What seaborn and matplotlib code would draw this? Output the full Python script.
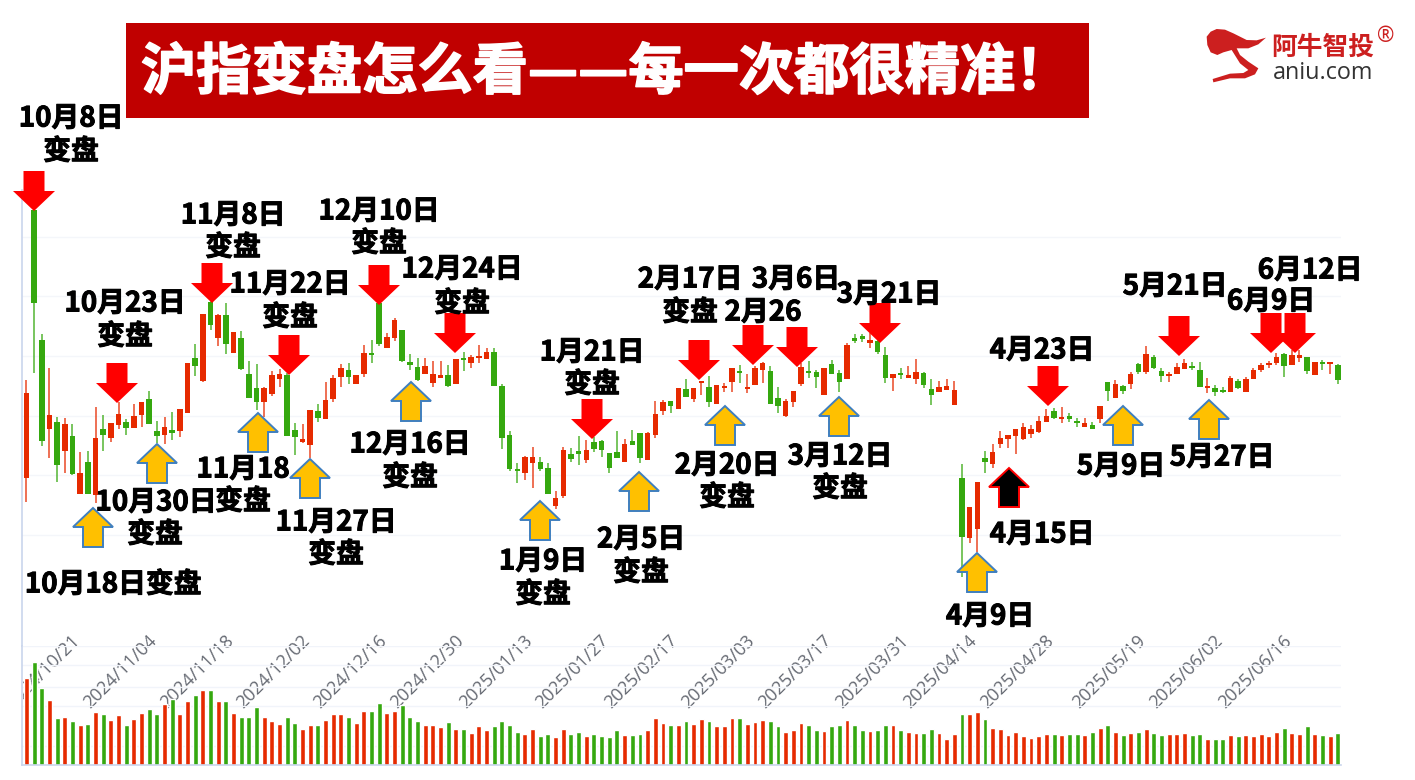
#!/usr/bin/env python

import numpy as np
import pandas as pd
import matplotlib
matplotlib.use("Agg")
import matplotlib.pyplot as plt
import matplotlib.patheffects as pe
from matplotlib.patches import Polygon, Rectangle
from matplotlib.transforms import ScaledTranslation
import seaborn as sns

# daily candles, on the chart's own unlabelled price scale
opens = [
    122,390,260,171,178,149,164,106,138,105,
    171,162,175,178,172,185,201,169,165,170,
    169,187,242,219,298,262,285,247,262,226,
    212,198,206,221,225,170,158,155,189,181,
    201,223,230,216,226,246,297,252,262,270,
    238,233,226,217,222,225,216,242,237,242,
    241,248,214,165,131,127,137,138,132,94,
    104,146,149,140,158,159,147,148,138,159,
    167,140,165,189,199,191,211,201,217,213,
    196,212,218,229,211,215,230,229,202,184,
    198,216,228,228,205,236,227,221,262,264,
    257,259,245,222,226,222,221,227,211,208,
    210,195,122,62,71,142,136,156,161,164,
    161,166,168,178,189,181,184,179,173,175,
    181,218,202,214,216,236,228,243,229,224,
    226,231,233,230,212,212,209,208,219,208,
    221,230,235,237,246,235,242,243,225,237,
    236,235]
closes = [
    207,297,159,185,135,176,126,127,106,162,
    165,177,186,172,184,198,176,164,173,167,
    191,237,234,286,275,285,256,268,231,202,
    198,212,225,226,164,163,161,190,182,200,
    222,232,223,225,247,245,256,263,280,239,
    235,220,234,226,225,214,241,240,243,244,
    248,214,162,131,129,143,143,131,106,102,
    150,141,146,150,151,150,132,142,156,155,
    142,167,186,198,194,212,203,212,218,198,
    215,214,232,227,212,232,237,196,194,199,
    209,233,227,223,232,226,218,255,259,261,
    260,248,222,226,225,225,228,215,205,213,
    214,210,63,93,118,138,148,162,165,171,
    173,171,179,184,182,183,181,177,177,171,
    194,209,216,209,226,228,246,232,224,225,
    233,237,232,213,213,208,208,222,212,221,
    230,235,236,243,234,245,245,229,238,236,
    238,220]
highs = [
    220,390,266,232,183,182,176,148,149,193,
    185,177,198,181,196,198,209,179,183,188,
    191,237,256,286,300,286,297,268,269,239,
    236,213,229,231,227,177,176,190,196,218,
    225,236,237,225,255,260,297,267,282,270,
    246,242,242,239,239,235,241,248,245,255,
    252,252,216,169,137,144,153,143,137,109,
    153,152,164,160,163,160,147,169,161,170,
    167,168,199,200,199,212,221,212,218,224,
    215,217,232,235,226,234,238,234,213,201,
    209,237,239,230,232,240,230,257,266,266,
    267,260,253,226,232,234,241,228,221,219,
    221,219,136,93,118,149,156,169,165,171,
    177,175,184,191,192,193,187,182,182,178,
    194,218,220,215,228,237,254,245,232,228,
    237,241,238,238,222,215,213,224,221,223,
    232,237,239,247,247,250,250,243,238,240,
    238,236]
lows = [
    98,227,154,142,118,127,125,106,106,97,
    149,158,171,165,172,173,176,157,156,160,
    163,187,224,218,270,254,246,247,230,202,
    190,183,204,213,164,145,157,142,178,181,
    198,213,216,216,223,237,254,252,259,238,
    230,219,226,213,222,213,216,229,232,237,
    241,214,151,129,117,120,112,129,106,91,
    102,138,135,137,148,143,127,142,138,155,
    137,140,162,185,187,191,203,198,205,193,
    196,208,208,217,207,215,217,196,187,183,
    193,214,222,212,205,226,208,221,257,258,
    252,246,217,209,221,222,216,212,195,208,
    210,195,23,57,48,127,132,152,152,146,
    160,162,167,178,181,177,178,173,173,171,
    177,199,202,206,211,226,226,231,218,218,
    226,231,230,213,207,204,207,208,211,208,
    221,228,232,235,223,235,238,226,225,230,
    226,216]
volumes = [
    260,308,232,195,140,145,131,119,122,159,
    153,134,150,119,137,156,168,153,183,197,
    153,192,209,224,224,192,192,156,145,145,
    174,145,131,122,145,125,108,119,119,134,
    153,153,145,125,162,162,186,156,162,180,
    145,131,119,119,113,128,108,108,96,116,
    105,116,131,119,99,93,108,87,93,84,
    108,93,99,87,93,87,84,105,90,90,
    93,105,140,125,119,119,131,122,137,131,
    116,116,140,140,122,128,134,131,116,99,
    105,125,119,105,102,116,119,134,119,105,
    102,105,119,119,105,99,96,96,108,96,
    78,93,153,153,159,137,110,108,90,99,
    87,81,87,93,93,90,93,93,90,99,
    110,119,99,90,96,99,108,96,90,93,
    93,96,90,93,78,78,78,90,87,90,
    87,93,87,99,110,96,93,116,93,90,
    87,96]

tick_days = [9, 19, 29, 39, 49, 59, 68, 78, 87, 97, 107, 117, 126, 136, 148, 158, 167]
tick_dates = ["2024/10/21", "2024/11/04", "2024/11/18", "2024/12/02", "2024/12/16",
              "2024/12/30", "2025/01/13", "2025/01/27", "2025/02/17", "2025/03/03",
              "2025/03/17", "2025/03/31", "2025/04/14", "2025/04/28", "2025/05/19",
              "2025/06/02", "2025/06/16"]

# hand drawn marks on the slide, pixel position of each arrow tip
down_tips = [(34, 211), (117, 403), (212, 303), (289, 375), (379, 305), (455, 353),
             (592, 439), (699, 380), (753, 365), (797, 367), (880, 343), (1048, 406),
             (1179, 356), (1271, 353), (1295, 353)]
up_tips = [(93, 508), (157, 444), (258, 413), (310, 459), (411, 382), (540, 501),
           (639, 472), (725, 406), (839, 397), (977, 553), (1123, 406), (1209, 400)]
black_tip = (1009, 468)

notes = [("10月8日", 71, 116), ("变盘", 71, 149), ("11月8日", 233, 213), ("变盘", 233, 245),
         ("10月23日", 125, 301), ("变盘", 125, 334), ("12月10日", 379, 209), ("变盘", 379, 241),
         ("11月22日", 290, 282), ("变盘", 290, 315), ("12月24日", 462, 267), ("变盘", 462, 301),
         ("1月21日", 592, 350), ("变盘", 592, 382), ("2月17日", 690, 277), ("变盘", 690, 310),
         ("3月6日", 796, 277), ("2月26", 763, 310), ("3月21日", 889, 292), ("4月23日", 1042, 348),
         ("5月21日", 1175, 284), ("6月9日", 1271, 299), ("6月12日", 1310, 268),
         ("10月30日", 156, 500), ("变盘", 155, 532), ("11月18", 243, 467), ("变盘", 243, 499),
         ("10月18日变盘", 113, 582), ("11月27日", 336, 520), ("变盘", 336, 552),
         ("12月16日", 410, 442), ("变盘", 410, 475), ("1月9日", 543, 559), ("变盘", 543, 592),
         ("2月5日", 641, 537), ("变盘", 641, 570), ("2月20日", 727, 463), ("变盘", 727, 495),
         ("3月12日", 840, 454), ("变盘", 840, 486), ("4月9日", 990, 614), ("4月15日", 1042, 532),
         ("5月9日", 1121, 464), ("5月27日", 1222, 455)]

RED = "#E62A00"
GREEN = "#35A80F"
CJK = ["Noto Sans CJK SC", "DejaVu Sans"]
W, H = 1415, 780

sns.set_theme(style="white")
plt.rcParams["font.family"] = CJK

df = pd.DataFrame({"open": opens, "close": closes, "high": highs, "low": lows, "volume": volumes})
df["day"] = np.arange(len(df))
df["side"] = np.where(df["close"] >= df["open"], "up", "down")
colors = df["side"].map({"up": RED, "down": GREEN}).tolist()


def px_axes(fig, left, top, right, bottom):
    return fig.add_axes([left / W, 1 - bottom / H, (right - left) / W, (bottom - top) / H])


fig = plt.figure(figsize=(W / 100, H / 100), dpi=100)
ax = px_axes(fig, 22.5, 190, 1341, 646)
ax_vol = px_axes(fig, 22.5, 646, 1341, 765)
day_lim = (-0.52, 171.42)

# price panel
ax.vlines(df["day"], df["low"], df["high"], colors=colors, linewidth=1.1, alpha=0.85, zorder=2)
body = (df["close"] - df["open"]).abs().clip(lower=2)
ax.bar(df["day"], body, bottom=df[["open", "close"]].min(axis=1), width=0.72, color=colors,
       linewidth=0, zorder=3)
ax.set_xlim(*day_lim)
ax.set_ylim(-46, 410)
ax.set_yticks([65, 125, 184, 244, 304, 363])
ax.set_xticks([])
ax.set_yticklabels([])
ax.grid(axis="y", color="#F4F6FA", linewidth=1)
ax.tick_params(length=0)

# volume panel
sns.barplot(data=df, x="day", y="volume", hue="side", palette={"up": RED, "down": GREEN},
            native_scale=True, dodge=False, width=0.64, legend=False, saturation=1, ax=ax_vol)
ax_vol.set_xlim(*day_lim)
ax_vol.set_ylim(0, 357)
ax_vol.set_xlabel("")
ax_vol.set_ylabel("")
ax_vol.set_yticks([57, 177, 234, 300, 357])
ax_vol.set_yticklabels([])
ax_vol.grid(axis="y", color="#F1F4FA", linewidth=1)
ax_vol.set_axisbelow(True)
ax_vol.tick_params(length=0, axis="both")
ax_vol.set_xticks(tick_days)
ax_vol.set_xticklabels(tick_dates, rotation=45, ha="right", va="top", rotation_mode="anchor",
                       fontsize=13, color="#666A73", family=["Open Sans", "DejaVu Sans"])
ax_vol.tick_params(axis="x", pad=-96)
shift = ScaledTranslation(-24.5 / 100, 0, fig.dpi_scale_trans)
clip = Rectangle((22.5, 0), W, H, transform=None)
for label in ax_vol.get_xticklabels():
    label.set_transform(label.get_transform() + shift)
    label.set_clip_path(clip)
    label.set_clip_on(True)

for a in (ax, ax_vol):
    a.patch.set_alpha(0)
    for side in ("top", "right"):
        a.spines[side].set_visible(False)
    a.spines["left"].set_color("#CAD5EC")
    a.spines["left"].set_linewidth(1.2)
ax.spines["bottom"].set_visible(False)
ax_vol.spines["bottom"].set_color("#CAD5EC")
ax_vol.spines["bottom"].set_linewidth(1.2)

# slide layer on top, in pixels
top = fig.add_axes([0, 0, 1, 1], zorder=5)
top.set_xlim(0, W)
top.set_ylim(H, 0)
top.axis("off")
top.patch.set_alpha(0)

top.add_patch(Rectangle((126, 23), 963, 95, color="#C00000", lw=0))
top.text(141, 73, "沪指变盘怎么看——每一次都很精准！", color="white", fontsize=39.8,
         fontweight="bold", family=CJK, ha="left", va="center",
         path_effects=[pe.withStroke(linewidth=1.2, foreground="white")])


def down_arrow(x, y):
    pts = [(x - 10.5, y - 40), (x + 10.5, y - 40), (x + 10.5, y - 20), (x + 21, y - 20),
           (x, y), (x - 21, y - 20), (x - 10.5, y - 20)]
    top.add_patch(Polygon(pts, closed=True, facecolor="#FF0000", edgecolor="none"))


def up_arrow(x, y, face="#FFC000", edge="#3F7FBF"):
    pts = [(x - 10, y + 39), (x + 10, y + 39), (x + 10, y + 19), (x + 20, y + 19),
           (x, y), (x - 20, y + 19), (x - 10, y + 19)]
    top.add_patch(Polygon(pts, closed=True, facecolor=face, edgecolor=edge, linewidth=1.4))


for x, y in down_tips:
    down_arrow(x, y)
for x, y in up_tips:
    up_arrow(x, y)
up_arrow(*black_tip, face="black", edge="#FF0000")

for text, x, y in notes:
    top.text(x, y + 2.5, text, color="black", fontsize=20, fontweight="bold", family=CJK,
             ha="center", va="center",
             path_effects=[pe.withStroke(linewidth=0.7, foreground="black")])

# logo
logo = [(50, 65), (62, 50), (80, 42), (105, 44), (130, 55), (170, 75), (200, 76), (228, 68),
        (205, 88), (175, 100), (140, 100), (150, 120), (175, 140), (205, 160), (195, 178),
        (165, 190), (120, 190), (70, 202), (68, 192), (120, 176), (160, 174), (175, 165),
        (150, 145), (125, 105), (100, 112), (82, 120), (62, 112), (52, 90)]
top.add_patch(Polygon([(1190 + a / 3, 15 + b / 3) for a, b in logo], closed=True,
                      facecolor="#CC1F1F", edgecolor="none"))
top.text(1323, 47, "阿牛智投", color="#CC1F1F", fontsize=18.5, fontweight="bold", family=CJK,
         ha="center", va="center")
top.text(1323, 73, "aniu.com", color="#333333", fontsize=16.8, family=["Open Sans", "DejaVu Sans"],
         ha="center", va="center")
top.text(1386, 36, "®", color="#CC1F1F", fontsize=15, family=["Open Sans", "DejaVu Sans"],
         ha="center", va="center")

fig.savefig("out.png", dpi=100)
